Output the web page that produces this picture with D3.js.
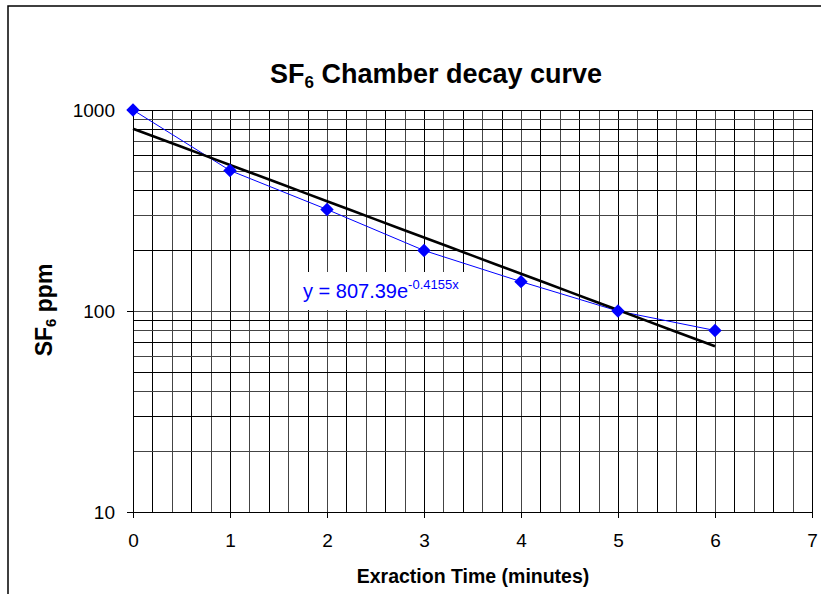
<!DOCTYPE html>
<html>
<head>
<meta charset="utf-8">
<script src="https://d3js.org/d3.v7.min.js"></script>
<style>
  body { margin: 0; background: #fff; }
  svg { display: block; font-family: "Liberation Sans", Arial, sans-serif; }
</style>
</head>
<body>
<div id="chartContainer"></div>
<script>
// data
const times = [0, 1, 2, 3, 4, 5, 6];
const ppm = [1000, 500, 320, 200, 140, 100, 80];
const xTicks = [0, 1, 2, 3, 4, 5, 6, 7];
const yTicks = [10, 100, 1000];
// trendline coefficients from the equation label
const fitA = 807.39,
  fitB = -0.4155;

const W = 821,
  H = 594,
  plot = { left: 133, right: 812, top: 110, bottom: 512 },
  blue = "#0000FF";

const svg = d3
  .select("#chartContainer")
  .append("svg")
  .attr("width", W)
  .attr("height", H);

// outer frame
svg
  .append("rect")
  .attr("x", 8)
  .attr("y", 6)
  .attr("width", 840)
  .attr("height", 620)
  .attr("fill", "#fff")
  .attr("stroke", "#000")
  .attr("stroke-width", 1.5);

const x = d3.scaleLinear().domain([0, 7]).range([plot.left, plot.right]);
const y = d3.scaleLog().domain([10, 1000]).range([plot.bottom, plot.top]);

// grid
const grid = svg.append("g").attr("shape-rendering", "crispEdges").attr("stroke-width", 1);
grid
  .selectAll("line.v")
  .data(d3.range(0, 36).map((i) => i / 5))
  .enter()
  .append("line")
  .attr("x1", (d) => Math.round(x(d)) + 0.5)
  .attr("x2", (d) => Math.round(x(d)) + 0.5)
  .attr("y1", plot.top)
  .attr("y2", plot.bottom)
  .attr("stroke", (d, i) => (i % 2 ? "#000" : "#444"));
grid
  .selectAll("line.h")
  .data(y.ticks())
  .enter()
  .append("line")
  .attr("x1", plot.left)
  .attr("x2", plot.right)
  .attr("y1", (d) => Math.round(y(d)) + 0.5)
  .attr("y2", (d) => Math.round(y(d)) + 0.5)
  .attr("stroke", (d, i) => (i % 2 ? "#444" : "#000"));

// axes
svg
  .append("g")
  .attr("transform", "translate(0," + plot.bottom + ")")
  .call(d3.axisBottom(x).tickValues(xTicks).tickFormat(d3.format("d")).tickSize(6).tickPadding(16))
  .call((g) => g.selectAll("text").style("font-size", "19px").attr("fill", "#000"))
  .call((g) => g.select(".domain").attr("stroke", "#000"));

svg
  .append("g")
  .attr("transform", "translate(" + plot.left + ",0)")
  .call(d3.axisLeft(y).tickValues(yTicks).tickFormat(d3.format("d")).tickSize(6).tickPadding(12))
  .call((g) => g.selectAll("text").style("font-size", "19px").attr("fill", "#000"))
  .call((g) => g.select(".domain").attr("stroke", "#000"));

// equation label box (drawn under the lines)
const eq = svg.append("g");
eq.append("rect").attr("x", 299).attr("y", 272).attr("width", 168).attr("height", 38).attr("fill", "#fff");
const eqText = eq
  .append("text")
  .attr("x", 303)
  .attr("y", 298)
  .attr("fill", blue)
  .style("font-size", "20px");
eqText.append("tspan").text("y = " + fitA + "e");
eqText.append("tspan").attr("dy", -9).style("font-size", "13px").text(fitB + "x");

// data line
const line = d3
  .line()
  .x((d, i) => x(times[i]))
  .y((d) => y(d));
svg
  .append("path")
  .datum(ppm)
  .attr("d", line)
  .attr("fill", "none")
  .attr("stroke", blue)
  .attr("stroke-width", 1);

// exponential trendline
const trendX = d3.range(0, 6.01, 0.25);
svg
  .append("path")
  .datum(trendX)
  .attr(
    "d",
    d3
      .line()
      .x((d) => x(d))
      .y((d) => y(fitA * Math.exp(fitB * d)))
  )
  .attr("fill", "none")
  .attr("stroke", "#000")
  .attr("stroke-width", 2.6);

// diamonds
svg
  .append("g")
  .selectAll("path")
  .data(ppm)
  .enter()
  .append("path")
  .attr("d", d3.symbol().type(d3.symbolDiamond2).size(115))
  .attr("transform", (d, i) => "translate(" + x(times[i]) + "," + y(d) + ")")
  .attr("fill", blue);

// title
const title = svg
  .append("text")
  .attr("x", 436)
  .attr("y", 83)
  .attr("text-anchor", "middle")
  .style("font-size", "27px")
  .style("font-weight", "bold");
title.append("tspan").text("SF");
title.append("tspan").attr("dy", 5).style("font-size", "17px").text("6");
title.append("tspan").attr("dy", -5).text(" Chamber decay curve");

// axis titles
svg
  .append("text")
  .attr("x", 473)
  .attr("y", 583)
  .attr("text-anchor", "middle")
  .style("font-size", "19.5px")
  .style("font-weight", "bold")
  .text("Exraction Time (minutes)");

const yTitle = svg
  .append("text")
  .attr("transform", "translate(52,310) rotate(-90)")
  .attr("text-anchor", "middle")
  .style("font-size", "23px")
  .style("font-weight", "bold");
yTitle.append("tspan").text("SF");
yTitle.append("tspan").attr("dy", 4).style("font-size", "15px").text("6");
yTitle.append("tspan").attr("dy", -4).text(" ppm");
</script>
</body>
</html>
